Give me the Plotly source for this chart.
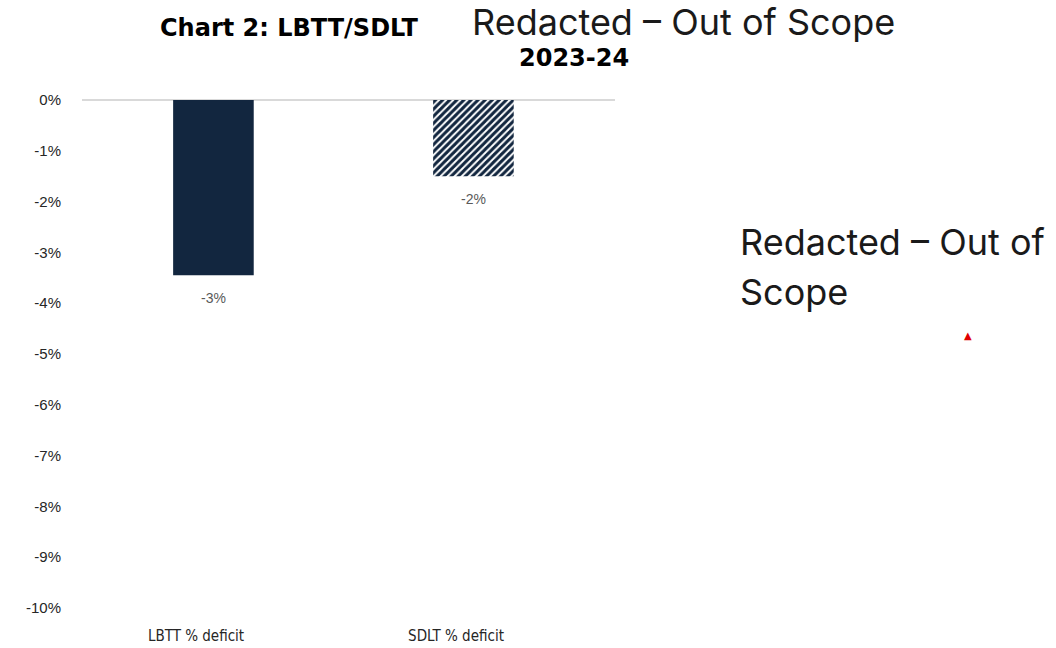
import plotly.graph_objects as go
from decimal import Decimal, ROUND_HALF_UP

# LBTT / SDLT percentage deficits, 2023-24
categories = ["LBTT % deficit", "SDLT % deficit"]
deficits = [-0.0345, -0.015]
y_tick_values = [0, -0.01, -0.02, -0.03, -0.04, -0.05, -0.06, -0.07, -0.08, -0.09, -0.10]
y_tick_labels = ["0%", "-1%", "-2%", "-3%", "-4%", "-5%", "-6%", "-7%", "-8%", "-9%", "-10%"]

navy = "#12263f"


def pct_label(v):
    """Whole-percent label, rounding halves away from zero."""
    p = (Decimal(str(v)) * 100).quantize(Decimal("1"), rounding=ROUND_HALF_UP)
    return f"{p}%"


fig = go.Figure()

fig.add_trace(go.Bar(
    x=[categories[0]],
    y=[deficits[0]],
    width=0.31,
    offset=-0.088,
    marker=dict(color=navy, line=dict(width=0)),
    showlegend=False,
))

fig.add_trace(go.Bar(
    x=[categories[1]],
    y=[deficits[1]],
    width=0.31,
    offset=-0.088,
    marker=dict(
        color="white",
        line=dict(width=0),
        pattern=dict(shape="/", fillmode="replace", fgcolor=navy, fgopacity=1,
                     bgcolor="white", size=5, solidity=0.6),
    ),
    showlegend=False,
))

# value labels under each bar, placed at the bar's end
bar_center_shift = -0.088 + 0.31 / 2
annotations = []
for i, (cat, val) in enumerate(zip(categories, deficits)):
    annotations.append(dict(
        x=i + bar_center_shift, y=val, xref="x", yref="y",
        text=pct_label(val), showarrow=False,
        xanchor="center", yanchor="middle", yshift=-23,
        font=dict(family="Liberation Sans, Arial, sans-serif", size=14, color="#595959"),
    ))

annotations += [
    dict(text="<b>Chart 2: LBTT/SDLT</b>", xref="paper", yref="paper", x=0.1426, y=1.1417,
         xanchor="left", yanchor="middle", showarrow=False,
         font=dict(family="DejaVu Sans, sans-serif", size=24, color="black")),
    dict(text="<b>2023-24</b>", xref="paper", yref="paper", x=0.923, y=1.0827,
         xanchor="center", yanchor="middle", showarrow=False,
         font=dict(family="DejaVu Sans, sans-serif", size=24, color="black")),
    dict(text="Redacted – Out of Scope", xref="paper", yref="paper", x=0.728, y=1.1535,
         xanchor="left", yanchor="middle", showarrow=False,
         font=dict(family="Inter, Noto Sans, sans-serif", size=36, color="#1a1a1a")),
    dict(text="Redacted – Out of", xref="paper", yref="paper", x=1.231, y=0.7205,
         xanchor="left", yanchor="middle", showarrow=False,
         font=dict(family="Inter, Noto Sans, sans-serif", size=36, color="#1a1a1a")),
    dict(text="Scope", xref="paper", yref="paper", x=1.231, y=0.622,
         xanchor="left", yanchor="middle", showarrow=False,
         font=dict(family="Inter, Noto Sans, sans-serif", size=36, color="#1a1a1a")),
    dict(text="▲", xref="paper", yref="paper", x=1.662, y=0.537,
         xanchor="center", yanchor="middle", showarrow=False,
         font=dict(family="DejaVu Sans, sans-serif", size=10, color="#e00000")),
]

fig.update_layout(
    width=1056,
    height=648,
    margin=dict(l=82, r=441, t=100, b=40),
    paper_bgcolor="white",
    plot_bgcolor="white",
    barmode="overlay",
    xaxis=dict(
        type="category",
        categoryorder="array",
        categoryarray=categories,
        range=[-0.4385, 1.6115],
        automargin=False,
        showgrid=False,
        showline=False,
        zeroline=False,
        ticks="",
        ticklabelstandoff=17,
        tickfont=dict(family="DejaVu Sans Condensed, DejaVu Sans, sans-serif", size=15, color="#262626"),
    ),
    yaxis=dict(
        range=[-0.10, 0],
        tickvals=y_tick_values,
        ticktext=y_tick_labels,
        automargin=False,
        showgrid=False,
        zeroline=True,
        zerolinecolor="#d9d9d9",
        zerolinewidth=2,
        showline=False,
        ticks="",
        ticklabelstandoff=20,
        tickfont=dict(family="Liberation Sans, Arial, sans-serif", size=15, color="#262626"),
    ),
    annotations=annotations,
)

fig.write_html("out.html")
